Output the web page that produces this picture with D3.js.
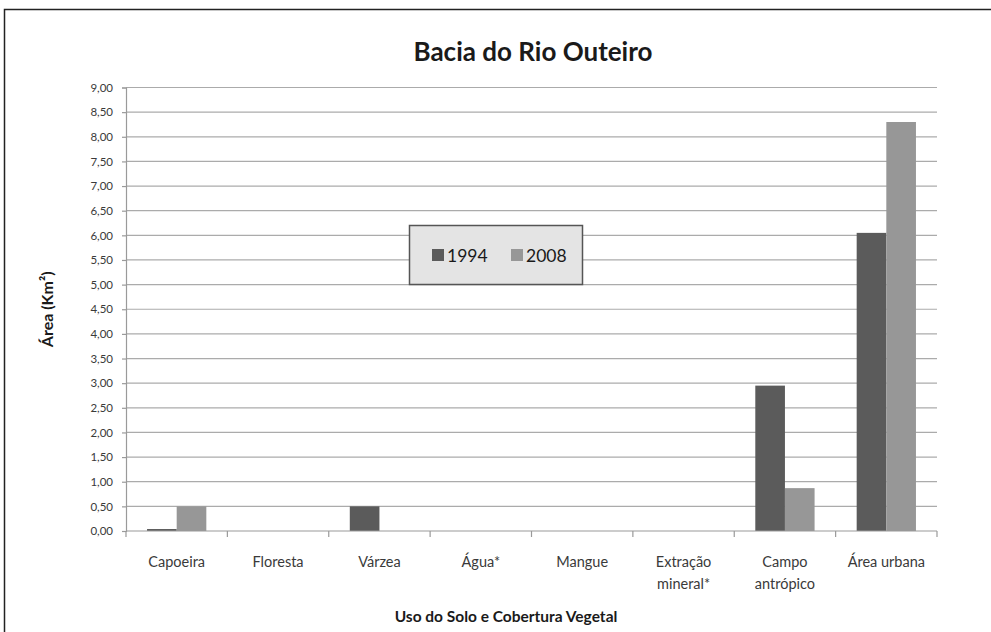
<!DOCTYPE html>
<html>
<head>
<meta charset="utf-8">
<script src="https://cdn.jsdelivr.net/npm/d3@7"></script>
<style>
  html, body { margin: 0; padding: 0; background: #fff; }
  svg { display: block; }
  text { font-family: Lato, "Open Sans", sans-serif; }
</style>
</head>
<body>
<svg id="chart" width="991" height="632"></svg>
<script>
// Land use classes (x categories), each label split into its lines
const categories = ["Capoeira", "Floresta", "Várzea", "Água*", "Mangue", "Extração mineral*", "Campo antrópico", "Área urbana"];
const categoryLines = [["Capoeira"], ["Floresta"], ["Várzea"], ["Água*"], ["Mangue"], ["Extração", "mineral*"], ["Campo", "antrópico"], ["Área urbana"]];
const years = ["1994", "2008"];
// Area in km² per class
const values1994 = [0.04, 0, 0.50, 0, 0, 0, 2.95, 6.05];
const values2008 = [0.50, 0, 0, 0, 0, 0, 0.87, 8.30];
const yTicks = [0, 0.5, 1, 1.5, 2, 2.5, 3, 3.5, 4, 4.5, 5, 5.5, 6, 6.5, 7, 7.5, 8, 8.5, 9];
const colors = { "1994": "#5b5b5b", "2008": "#979797" };

const svg = d3.select("#chart");
const W = 991, H = 632;
const plot = { left: 126, right: 937, top: 87.5, bottom: 531 };

// outer frame
svg.append("rect")
  .attr("x", 4.5).attr("y", 9.5)
  .attr("width", W + 20).attr("height", H + 20)
  .attr("fill", "none").attr("stroke", "#222").attr("stroke-width", 1.5);

const x = d3.scaleBand().domain(categories).range([plot.left, plot.right]).paddingInner(0).paddingOuter(0);
const xSub = d3.scaleBand().domain(years).range([0, x.bandwidth()]).paddingInner(0).paddingOuter(0.71);
const y = d3.scaleLinear().domain([0, 9]).range([plot.bottom, plot.top]);

// horizontal gridlines
svg.append("g")
  .selectAll("line")
  .data(yTicks.filter(d => d > 0))
  .join("line")
  .attr("x1", plot.left).attr("x2", plot.right)
  .attr("y1", d => y(d)).attr("y2", d => y(d))
  .attr("stroke", "#ababab").attr("stroke-width", 1.2);

// bars
const rows = categories.map((c, i) => ({ c, v: { "1994": values1994[i], "2008": values2008[i] } }));
const groups = svg.append("g")
  .selectAll("g")
  .data(rows)
  .join("g")
  .attr("transform", d => `translate(${x(d.c)},0)`);
groups.selectAll("rect")
  .data(d => years.map(yr => ({ yr, v: d.v[yr] })))
  .join("rect")
  .attr("x", d => xSub(d.yr))
  .attr("width", xSub.bandwidth())
  .attr("y", d => y(d.v))
  .attr("height", d => y(0) - y(d.v))
  .attr("fill", d => colors[d.yr]);

// y axis
const yAxis = d3.axisLeft(y)
  .tickValues(yTicks)
  .tickSize(4)
  .tickPadding(9)
  .tickFormat(d => d3.format(".2f")(d).replace(".", ","));
const gy = svg.append("g").attr("transform", `translate(${plot.left},0)`).call(yAxis);
gy.select(".domain").attr("stroke", "#9a9a9a").attr("stroke-width", 1.2);
gy.selectAll(".tick line").attr("stroke", "#9a9a9a").attr("stroke-width", 1.2);
gy.selectAll(".tick text")
  .attr("font-family", "Lato, sans-serif")
  .attr("font-size", 11.5)
  .attr("fill", "#3a3a3a");

// x axis: baseline with tick marks at category boundaries
const gx = svg.append("g");
gx.append("line")
  .attr("x1", plot.left).attr("x2", plot.right)
  .attr("y1", y(0)).attr("y2", y(0))
  .attr("stroke", "#9a9a9a").attr("stroke-width", 1.2);
const bounds = categories.map(c => x(c)).concat([x(categories[categories.length - 1]) + x.bandwidth()]);
gx.selectAll("line.b")
  .data(bounds)
  .join("line")
  .attr("class", "b")
  .attr("x1", d => d).attr("x2", d => d)
  .attr("y1", y(0)).attr("y2", y(0) + 6)
  .attr("stroke", "#9a9a9a").attr("stroke-width", 1.2);

// category labels
const labels = gx.selectAll("text.cat")
  .data(categories)
  .join("text")
  .attr("class", "cat")
  .attr("text-anchor", "middle")
  .attr("font-size", 14.5)
  .attr("fill", "#3a3a3a");
labels.each(function (c, i) {
  const t = d3.select(this);
  categoryLines[i].forEach((ln, j) => {
    t.append("tspan")
      .attr("x", x(c) + x.bandwidth() / 2)
      .attr("y", 567 + j * 22)
      .text(ln);
  });
});

// title
svg.append("text")
  .attr("x", 533).attr("y", 61)
  .attr("text-anchor", "middle")
  .attr("font-size", 26).attr("font-weight", "bold")
  .attr("fill", "#1a1a1a")
  .text("Bacia do Rio Outeiro");

// axis titles
svg.append("text")
  .attr("transform", `translate(53,${(plot.top + plot.bottom) / 2}) rotate(-90)`)
  .attr("text-anchor", "middle")
  .attr("font-size", 16).attr("font-weight", "bold")
  .attr("fill", "#1a1a1a")
  .text("Área (Km²)");

svg.append("text")
  .attr("x", 506).attr("y", 622)
  .attr("text-anchor", "middle")
  .attr("font-size", 15.5).attr("font-weight", "bold")
  .attr("fill", "#1a1a1a")
  .text("Uso do Solo e Cobertura Vegetal");

// legend
const lg = svg.append("g");
lg.append("rect")
  .attr("x", 409.5).attr("y", 225.5)
  .attr("width", 173).attr("height", 59)
  .attr("fill", "#e4e4e4").attr("stroke", "#555").attr("stroke-width", 1.5);
const legendX = { "1994": 432, "2008": 511 };
years.forEach(yr => {
  lg.append("rect")
    .attr("x", legendX[yr]).attr("y", 249)
    .attr("width", 12).attr("height", 12)
    .attr("fill", colors[yr]);
  lg.append("text")
    .attr("x", legendX[yr] + 15).attr("y", 261.5)
    .attr("font-size", 17.5)
    .attr("fill", "#1a1a1a")
    .text(yr);
});
</script>
</body>
</html>
